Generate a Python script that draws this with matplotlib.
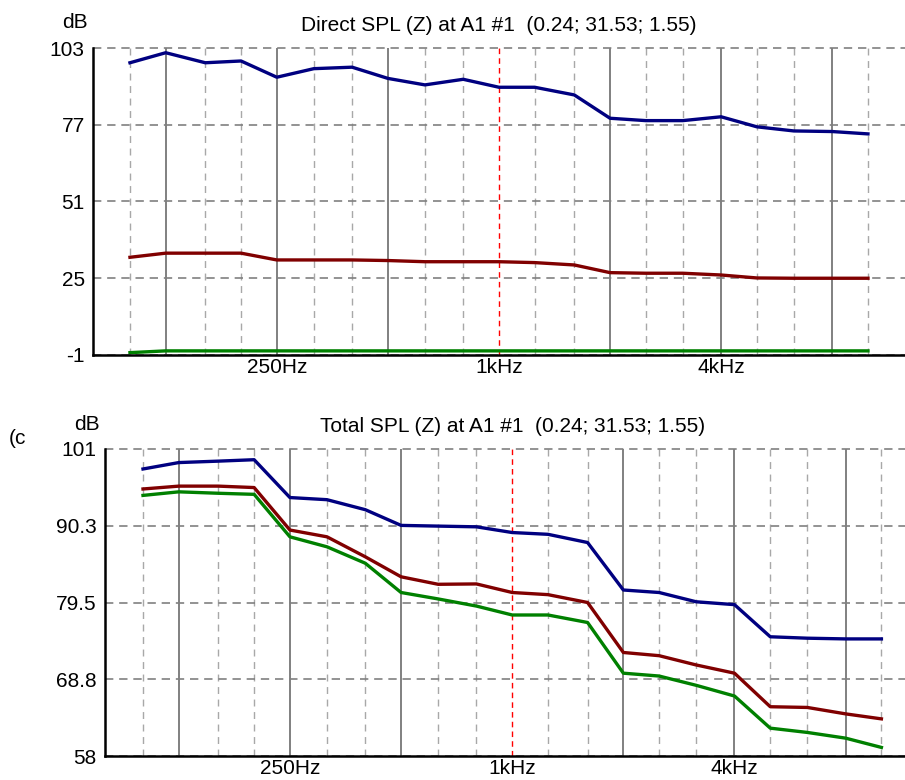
import numpy as np
import matplotlib
matplotlib.use("Agg")
import matplotlib.pyplot as plt

plt.rcParams["font.family"] = ["Liberation Sans", "DejaVu Sans"]

# 1/3-octave band centres (Hz)
freqs = [100, 125, 160, 200, 250, 315, 400, 500, 630, 800, 1000,
         1250, 1600, 2000, 2500, 3150, 4000, 5000, 6300, 8000, 10000]

# Direct SPL (top panel)
direct_blue = [98.0, 101.4, 98.0, 98.6, 93.1, 96.0, 96.5, 92.7, 90.5, 92.4, 89.7,
               89.7, 87.1, 79.2, 78.4, 78.4, 79.7, 76.3, 74.9, 74.7, 73.9]
direct_red = [32.1, 33.5, 33.5, 33.5, 31.2, 31.2, 31.2, 31.0, 30.6, 30.6, 30.6,
              30.3, 29.5, 26.9, 26.7, 26.7, 26.1, 25.1, 25.0, 25.0, 25.0]
direct_green = [-0.2, 0.4, 0.4, 0.4, 0.4, 0.4, 0.4, 0.4, 0.4, 0.4, 0.4,
                0.4, 0.4, 0.4, 0.4, 0.4, 0.4, 0.4, 0.4, 0.4, 0.4]

# Total SPL (bottom panel)
total_blue = [98.2, 99.1, 99.3, 99.5, 94.2, 93.9, 92.5, 90.3, 90.2, 90.1, 89.3,
              89.05, 87.9, 81.25, 80.9, 79.6, 79.2, 74.7, 74.5, 74.4, 74.4]
total_red = [95.4, 95.8, 95.8, 95.6, 89.65, 88.7, 85.9, 83.1, 82.05, 82.1, 80.9,
             80.6, 79.5, 72.5, 72.05, 70.75, 69.6, 64.9, 64.8, 63.9, 63.2]
total_green = [94.5, 95.0, 94.8, 94.65, 88.7, 87.3, 85.0, 80.9, 80.0, 79.0, 77.75,
               77.75, 76.7, 69.6, 69.2, 67.9, 66.4, 61.9, 61.3, 60.5, 59.2]

octave_freqs = [125, 250, 500, 2000, 4000, 8000]
xtick_freqs = [250, 1000, 4000]
xtick_labels = ["250Hz", "1kHz", "4kHz"]

top_yticks = [103, 77, 51, 25, -1]
top_ylabels = ["103", "77", "51", "25", "-1"]
bot_yticks = [101, 90.25, 79.5, 68.75, 58]
bot_ylabels = ["101", "90.3", "79.5", "68.8", "58"]

BLUE = "#000080"
RED = "#800000"
GREEN = "#008000"
FS = 15


def draw_panel(ax, blue, red, green, yticks, ylabels, xlim):
    ax.set_xscale("log")
    ax.set_xlim(*xlim)
    ax.set_ylim(min(yticks), max(yticks))
    for f in freqs:
        if f == 1000:
            ax.axvline(f, color="#ff0000", lw=1.0, ls=(0, (4, 3)), zorder=1)
        elif f in octave_freqs:
            ax.axvline(f, color="#808080", lw=1.4, zorder=1)
        else:
            ax.axvline(f, color="#a8a8a8", lw=1.0, ls=(0, (5, 4)), zorder=1)
    for y in yticks:
        ax.axhline(y, color="#808080", lw=1.2, ls=(0, (5, 3.5)), zorder=1, clip_on=False)
    ax.plot(freqs, blue, color=BLUE, lw=2.4, zorder=3)
    ax.plot(freqs, red, color=RED, lw=2.4, zorder=3)
    ax.plot(freqs, green, color=GREEN, lw=2.4, zorder=3)
    ax.set_yticks(yticks)
    ax.set_yticklabels(ylabels)
    ax.set_xticks(xtick_freqs)
    ax.set_xticklabels(xtick_labels)
    ax.minorticks_off()
    ax.tick_params(length=0, labelsize=FS, pad=6)
    ax.tick_params(axis="x", pad=2)
    for s in ["top", "right"]:
        ax.spines[s].set_visible(False)
    for s in ["left", "bottom"]:
        ax.spines[s].set_linewidth(1.8)
        ax.spines[s].set_color("black")
        ax.spines[s].set_zorder(4)


fig = plt.figure(figsize=(9.05, 7.8), dpi=100)

ax1 = fig.add_axes([93 / 905, 1 - 355 / 780, (905 - 93) / 905, 307 / 780])
draw_panel(ax1, direct_blue, direct_red, direct_green, top_yticks, top_ylabels,
           (79.4, 12600))
ax1.set_title("Direct SPL (Z) at A1 #1  (0.24; 31.53; 1.55)", fontsize=FS, pad=12)
fig.text(75 / 905, 1 - 23 / 780, "dB", fontsize=FS, ha="center", va="center")

ax2 = fig.add_axes([105 / 905, 1 - 756 / 780, (921 - 105) / 905, 307 / 780])
draw_panel(ax2, total_blue, total_red, total_green, bot_yticks, bot_ylabels,
           (78.9, 12800))
ax2.set_title("Total SPL (Z) at A1 #1  (0.24; 31.53; 1.55)", fontsize=FS, pad=12)
fig.text(87 / 905, 1 - 425 / 780, "dB", fontsize=FS, ha="center", va="center")
fig.text(9 / 905, 1 - 438 / 780, "(c", fontsize=FS, ha="left", va="center")

fig.savefig("out.png", dpi=100)
